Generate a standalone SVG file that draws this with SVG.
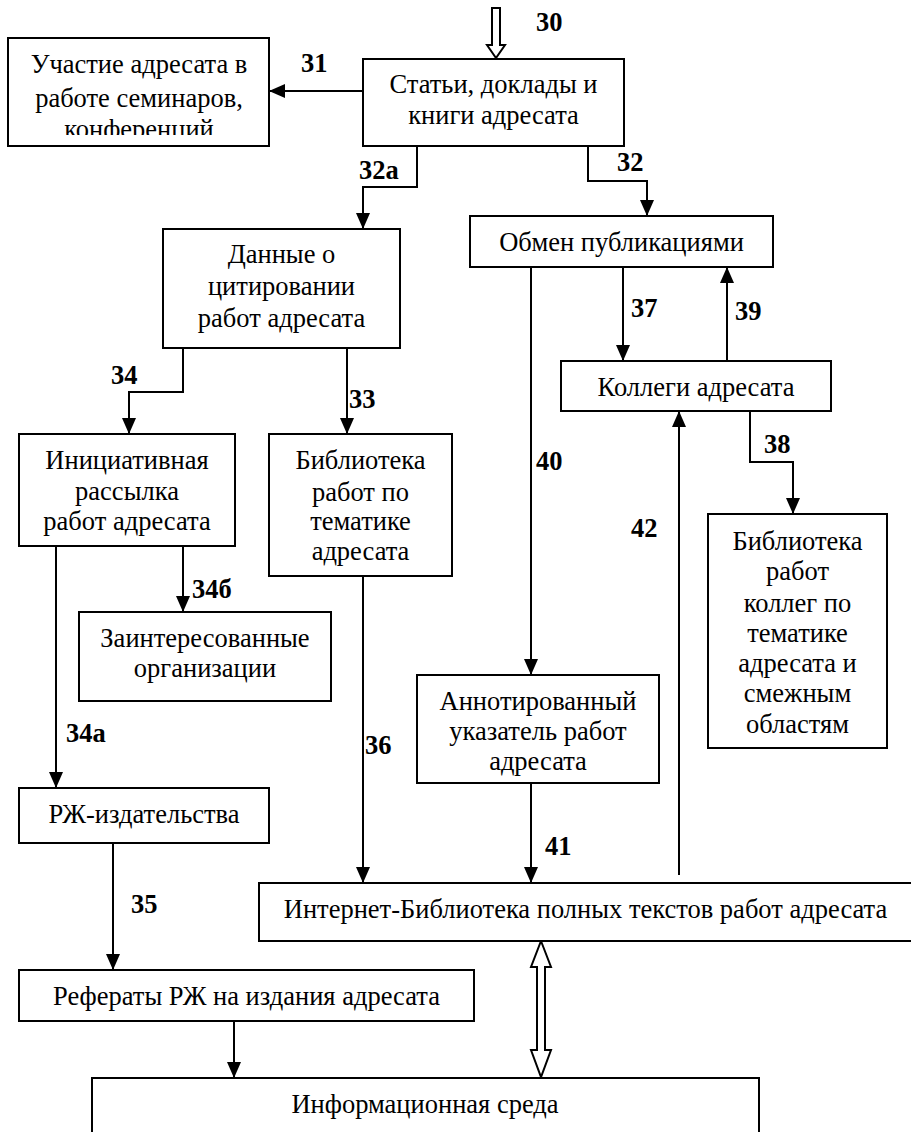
<svg xmlns="http://www.w3.org/2000/svg" width="911" height="1132" viewBox="0 0 911 1132">
<style>
.box{fill:#fff;stroke:#000;stroke-width:2}
.t{font-size:26.5px;fill:#000;text-anchor:middle}
.lbl{font-size:26.5px;font-weight:bold;fill:#000}
.c{fill:none;stroke:#000;stroke-width:2;marker-end:url(#ah)}
.h{fill:#fff;stroke:#000;stroke-width:2;stroke-linejoin:miter}
text{font-family:'Liberation Serif','DejaVu Serif',serif}
</style>
<defs>
<marker id="ah" markerUnits="userSpaceOnUse" markerWidth="16" markerHeight="14" refX="16" refY="7" orient="auto">
<path d="M0,0 L16,7 L0,14 z" fill="#000"/>
</marker>
<clipPath id="clipU"><rect x="0" y="30" width="280" height="105"/></clipPath>
</defs>
<rect width="911" height="1132" fill="#fff"/>

<g id="connectors">
<polygon class="h" points="492,8 500,8 500,45 505,45 496,58 487,45 492,45"/>
<line class="c" x1="363" y1="91" x2="269" y2="91"/>
<polyline class="c" points="417,146 417,187 363,187 363,229"/>
<polyline class="c" points="588,146 588,181 647,181 647,216"/>
<polyline class="c" points="183,348 183,392 129,392 129,434"/>
<line class="c" x1="347" y1="348" x2="347" y2="434"/>
<line class="c" x1="56" y1="546" x2="56" y2="788"/>
<line class="c" x1="183" y1="546" x2="183" y2="612"/>
<line class="c" x1="363" y1="576" x2="363" y2="883"/>
<line class="c" x1="531" y1="267" x2="531" y2="675"/>
<line class="c" x1="623" y1="267" x2="623" y2="361"/>
<line class="c" x1="727" y1="361" x2="727" y2="267"/>
<polyline class="c" points="750,411 750,462 793,462 793,514"/>
<line class="c" x1="679" y1="875" x2="679" y2="411"/>
<line class="c" x1="531" y1="783" x2="531" y2="883"/>
<line class="c" x1="113" y1="843" x2="113" y2="970"/>
<line class="c" x1="234" y1="1021" x2="234" y2="1078"/>
<polygon class="h" points="541,941 551,967 545,967 545,1050 551,1050 541,1077 531,1050 537,1050 537,967 531,967"/>
<text class="lbl" x="536" y="31">30</text>
<text class="lbl" x="301" y="72">31</text>
<text class="lbl" x="359" y="179">32а</text>
<text class="lbl" x="617" y="171">32</text>
<text class="lbl" x="111" y="384">34</text>
<text class="lbl" x="349" y="408">33</text>
<text class="lbl" x="192" y="598">34б</text>
<text class="lbl" x="66" y="742">34а</text>
<text class="lbl" x="365" y="754">36</text>
<text class="lbl" x="536" y="470">40</text>
<text class="lbl" x="631" y="317">37</text>
<text class="lbl" x="735" y="320">39</text>
<text class="lbl" x="764" y="453">38</text>
<text class="lbl" x="631" y="537">42</text>
<text class="lbl" x="545" y="855">41</text>
<text class="lbl" x="131" y="913">35</text>
</g>

<g id="n_statyi">
<rect class="box" x="363" y="59" width="261" height="87"/>
<text class="t" x="493.5" y="93">Статьи, доклады и</text>
<text class="t" x="493.5" y="124">книги адресата</text>
</g>
<g id="n_uchastie">
<rect class="box" x="8" y="38" width="261" height="108"/>
<g clip-path="url(#clipU)">
<text class="t" x="139" y="73">Участие адресата в</text>
<text class="t" x="139" y="107">работе семинаров,</text>
<text class="t" x="139" y="138">конференций</text>
</g>
</g>
<g id="n_obmen">
<rect class="box" x="470" y="216" width="303" height="51"/>
<text class="t" x="621.5" y="251">Обмен публикациями</text>
</g>
<g id="n_dannye">
<rect class="box" x="163" y="229" width="237" height="119"/>
<text class="t" x="281.5" y="263">Данные о</text>
<text class="t" x="281.5" y="295">цитировании</text>
<text class="t" x="281.5" y="327">работ адресата</text>
</g>
<g id="n_kollegi">
<rect class="box" x="561" y="361" width="270" height="50"/>
<text class="t" x="696" y="396">Коллеги адресата</text>
</g>
<g id="n_initsiativ">
<rect class="box" x="19" y="434" width="216" height="112"/>
<text class="t" x="127" y="469">Инициативная</text>
<text class="t" x="127" y="500">рассылка</text>
<text class="t" x="127" y="530">работ адресата</text>
</g>
<g id="n_biblioteka">
<rect class="box" x="269" y="434" width="183" height="142"/>
<text class="t" x="360.5" y="469">Библиотека</text>
<text class="t" x="360.5" y="501">работ по</text>
<text class="t" x="360.5" y="530">тематике</text>
<text class="t" x="360.5" y="560">адресата</text>
</g>
<g id="n_bibl_kolleg">
<rect class="box" x="708" y="514" width="179" height="234"/>
<text class="t" x="797.5" y="550">Библиотека</text>
<text class="t" x="797.5" y="580">работ</text>
<text class="t" x="797.5" y="612">коллег по</text>
<text class="t" x="797.5" y="642">тематике</text>
<text class="t" x="797.5" y="672">адресата и</text>
<text class="t" x="797.5" y="702">смежным</text>
<text class="t" x="797.5" y="733">областям</text>
</g>
<g id="n_zainter">
<rect class="box" x="79" y="612" width="252" height="89"/>
<text class="t" x="205" y="647">Заинтересованные</text>
<text class="t" x="205" y="677">организации</text>
</g>
<g id="n_annot">
<rect class="box" x="417" y="675" width="242" height="108"/>
<text class="t" x="538" y="710">Аннотированный</text>
<text class="t" x="538" y="740">указатель работ</text>
<text class="t" x="538" y="770">адресата</text>
</g>
<g id="n_rzh">
<rect class="box" x="19" y="788" width="250" height="55"/>
<text class="t" x="144" y="823">РЖ-издательства</text>
</g>
<g id="n_internet">
<rect class="box" x="259" y="883" width="660" height="58"/>
<text class="t" x="585.5" y="918">Интернет-Библиотека полных текстов работ адресата</text>
</g>
<g id="n_referaty">
<rect class="box" x="19" y="970" width="455" height="51"/>
<text class="t" x="246.5" y="1005">Рефераты РЖ на издания адресата</text>
</g>
<g id="n_info">
<rect class="box" x="92" y="1078" width="667" height="70"/>
<text class="t" x="425" y="1113">Информационная среда</text>
</g>
</svg>
